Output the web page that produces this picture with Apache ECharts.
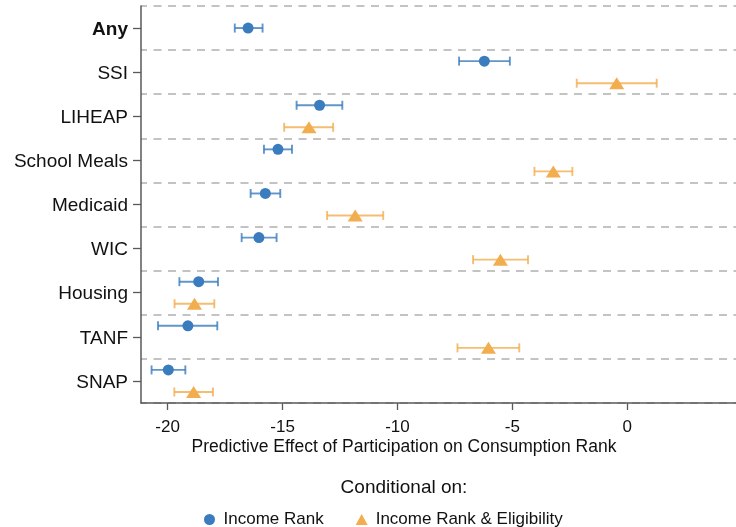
<!DOCTYPE html>
<html>
<head>
<meta charset="utf-8">
<script src="https://cdn.jsdelivr.net/npm/echarts@6/dist/echarts.min.js"></script>
<style>html,body{margin:0;padding:0;background:#fff}#c{width:736px;height:527px}</style>
</head>
<body>
<div id="c"></div>
<script>
var categories = ['Any', 'SSI', 'LIHEAP', 'School Meals', 'Medicaid', 'WIC', 'Housing', 'TANF', 'SNAP'];
var incomePoint = [-16.50, -6.22, -13.39, -15.20, -15.75, -16.03, -18.65, -19.12, -19.97];
var incomeLow   = [-17.08, -7.32, -14.39, -15.81, -16.39, -16.78, -19.49, -20.42, -20.70];
var incomeHigh  = [-15.87, -5.11, -12.40, -14.59, -15.10, -15.26, -17.81, -17.84, -19.23];
var eligPoint = [null, -0.46, -13.85, -3.22, -11.84, -5.52, -18.83, -6.04, -18.87];
var eligLow   = [null, -2.20, -14.93, -4.04, -13.06, -6.71, -19.70, -7.39, -19.71];
var eligHigh  = [null,  1.28, -12.80, -2.39, -10.62, -4.32, -17.97, -4.70, -18.03];
var xTicks = [-20, -15, -10, -5, 0];

var BLUE = '#3a7cbd', ORANGE = '#f2ad4f';
var FONT = '"Liberation Sans", Arial, Helvetica, sans-serif';

function rowY(i, isElig) {
  if (eligPoint[i] == null) return i + 0.5;
  return isElig ? i + 0.75 : i + 0.25;
}
var incomeScatter = [], incomeBars = [], eligScatter = [], eligBars = [];
categories.forEach(function (c, i) {
  incomeScatter.push([incomePoint[i], rowY(i, false)]);
  incomeBars.push([incomeLow[i], incomeHigh[i], rowY(i, false)]);
  if (eligPoint[i] != null) {
    eligScatter.push([eligPoint[i], rowY(i, true)]);
    eligBars.push([eligLow[i], eligHigh[i], rowY(i, true)]);
  }
});

function errRender(color) {
  return function (params, api) {
    var p1 = api.coord([api.value(0), api.value(2)]);
    var p2 = api.coord([api.value(1), api.value(2)]);
    var h = 4.5;
    var st = { stroke: color, lineWidth: 1.9, opacity: 0.8 };
    return {
      type: 'group',
      children: [
        { type: 'line', shape: { x1: p1[0], y1: p1[1], x2: p2[0], y2: p2[1] }, style: st },
        { type: 'line', shape: { x1: p1[0], y1: p1[1] - h, x2: p1[0], y2: p1[1] + h }, style: st },
        { type: 'line', shape: { x1: p2[0], y1: p2[1] - h, x2: p2[0], y2: p2[1] + h }, style: st }
      ]
    };
  };
}

var chart = echarts.init(document.getElementById('c'), null, { renderer: 'canvas' });
chart.setOption({
  animation: false,
  textStyle: { fontFamily: FONT },
  grid: { left: 141, right: 0, top: 6, height: 397, containLabel: false },
  xAxis: {
    type: 'value', min: -21.16, max: 4.73, position: 'bottom',
    axisLine: { show: true, onZero: false, lineStyle: { color: '#595959', width: 1.5 } },
    axisTick: { show: true, length: 7, customValues: xTicks, lineStyle: { color: '#595959', width: 1.3 } },
    axisLabel: { customValues: xTicks, color: '#111', fontSize: 17, margin: 16, fontFamily: FONT },
    splitLine: { show: false }
  },
  yAxis: [{
    type: 'category', data: categories, inverse: true, boundaryGap: true, position: 'left',
    axisLine: { show: true, onZero: false, lineStyle: { color: '#595959', width: 1.5 } },
    axisTick: { show: true, alignWithLabel: true, length: 8, lineStyle: { color: '#595959', width: 1.3 } },
    axisLabel: {
      color: '#111', fontSize: 19, margin: 13, fontFamily: FONT, padding: [3, 0, 0, 0],
      formatter: function (v) { return v === 'Any' ? '{b|' + v + '}' : v; },
      rich: { b: { fontWeight: 'bold', fontSize: 19, color: '#111', fontFamily: FONT } }
    },
    splitLine: { show: true, lineStyle: { color: '#b0b0b0', width: 1.5, type: [8, 6.5], dashOffset: 2 } }
  }, {
    type: 'value', min: 0, max: 9, inverse: true, show: false,
    axisLine: { onZero: false }
  }],
  legend: {
    data: [{ name: 'Income Rank', icon: 'circle' }, { name: 'Income Rank & Eligibility', icon: 'triangle' }],
    left: 199, top: 506, itemWidth: 12, itemHeight: 11, itemGap: 32,
    textStyle: { fontSize: 17, color: '#111', fontFamily: FONT, padding: [0, 0, 0, 3] }
  },
  graphic: [
    { type: 'text', x: 404, y: 447, style: { text: 'Predictive Effect of Participation on Consumption Rank', fontSize: 17.5, fill: '#111', fontFamily: FONT, align: 'center', verticalAlign: 'middle' } },
    { type: 'text', x: 404, y: 488, style: { text: 'Conditional on:', fontSize: 19, fill: '#111', fontFamily: FONT, align: 'center', verticalAlign: 'middle' } }
  ],
  series: [
    { type: 'custom', name: 'incomeCI', yAxisIndex: 1, renderItem: errRender(BLUE), data: incomeBars, z: 2, silent: true },
    { type: 'custom', name: 'eligCI', yAxisIndex: 1, renderItem: errRender(ORANGE), data: eligBars, z: 2, silent: true },
    { type: 'scatter', name: 'Income Rank', yAxisIndex: 1, symbol: 'circle', symbolSize: 11, itemStyle: { color: BLUE, opacity: 1 }, data: incomeScatter, z: 3 },
    { type: 'scatter', name: 'Income Rank & Eligibility', yAxisIndex: 1, symbol: 'triangle', symbolSize: [15, 12], itemStyle: { color: ORANGE, opacity: 1 }, data: eligScatter, z: 3 }
  ]
});
</script>
</body>
</html>
